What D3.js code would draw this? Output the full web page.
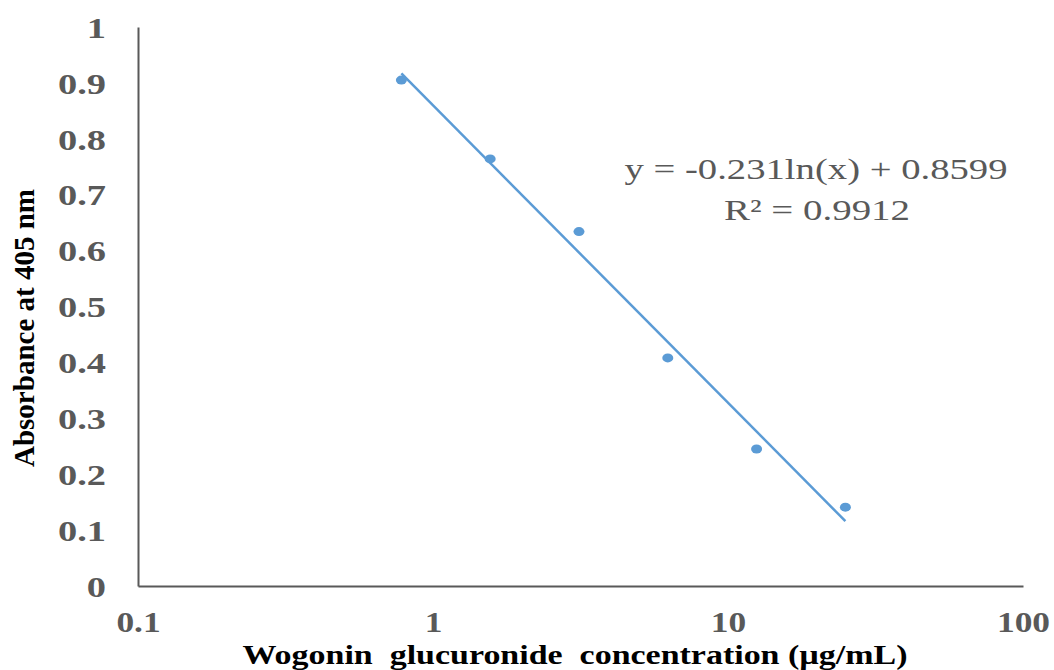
<!DOCTYPE html>
<html>
<head>
<meta charset="utf-8">
<script src="https://cdn.jsdelivr.net/npm/d3@7"></script>
<style>
  html, body { margin: 0; padding: 0; background: #fff; }
  svg { display: block; }
</style>
</head>
<body>
<svg id="chart" width="1054" height="670"></svg>
<script>
// ---- data ----
const concentrations = [0.78125, 1.5625, 3.125, 6.25, 12.5, 25];
const absorbance = [0.905, 0.764, 0.634, 0.408, 0.245, 0.141];
const trendX = [0.78125, 25];
const trendY = [0.917, 0.116];
const xTicks = [0.1, 1, 10, 100];
const xTickLabels = ["0.1", "1", "10", "100"];
const yTicks = [0, 0.1, 0.2, 0.3, 0.4, 0.5, 0.6, 0.7, 0.8, 0.9, 1];
const yTickLabels = ["0", "0.1", "0.2", "0.3", "0.4", "0.5", "0.6", "0.7", "0.8", "0.9", "1"];
const equationLines = ["y = -0.231ln(x) + 0.8599", "R\u00B2 = 0.9912"];
const xTitle = "Wogonin  glucuronide  concentration (\u00B5g/mL)";
const yTitle = "Absorbance at 405 nm";

(function() {
// ---- layout ----
const svg = d3.select("#chart");
const mLeft = 138, mRight = 1023, mTop = 27, mBottom = 586;
const x = d3.scaleLog().domain([0.1, 100]).range([mLeft, mRight]);
const y = d3.scaleLinear().domain([0, 1]).range([mBottom, mTop]);

const grey = "#595959";
const blue = "#5B9BD5";
const serif = "'Liberation Serif', 'Times New Roman', serif";

function stretch(sel, factor) {
  sel.each(function() {
    const w = this.getComputedTextLength();
    d3.select(this).attr("textLength", w * factor).attr("lengthAdjust", "spacingAndGlyphs");
  });
}

// axes
const xAxis = d3.axisBottom(x).tickValues(xTicks).tickSize(0)
  .tickFormat((d, i) => xTickLabels[i]);
const gx = svg.append("g").attr("transform", `translate(0,${mBottom})`).call(xAxis);
gx.select(".domain").attr("stroke", grey).attr("stroke-width", 2);
gx.selectAll("text")
  .attr("font-family", serif).attr("font-weight", "bold").attr("font-size", 30)
  .attr("fill", grey).attr("dy", null).attr("y", 46);
stretch(gx.selectAll("text"), 1.18);

const yAxis = d3.axisLeft(y).tickValues(yTicks).tickSize(0)
  .tickFormat((d, i) => yTickLabels[i]);
const gy = svg.append("g").attr("transform", `translate(${mLeft},0)`).call(yAxis);
gy.select(".domain").attr("stroke", grey).attr("stroke-width", 2);
gy.selectAll("text")
  .attr("font-family", serif).attr("font-weight", "bold").attr("font-size", 30)
  .attr("fill", grey).attr("x", -32).attr("dy", "0.34em");
stretch(gy.selectAll("text"), 1.28);

// trendline
svg.append("line")
  .attr("x1", x(trendX[0])).attr("y1", y(trendY[0]))
  .attr("x2", x(trendX[1])).attr("y2", y(trendY[1]))
  .attr("stroke", blue).attr("stroke-width", 2.5);

// points
svg.append("g").selectAll("ellipse")
  .data(concentrations.map((c, i) => [c, absorbance[i]]))
  .join("ellipse")
  .attr("cx", d => x(d[0])).attr("cy", d => y(d[1]))
  .attr("rx", 5.5).attr("ry", 4.5)
  .attr("fill", blue);

// equation
const eq = svg.append("g").attr("font-family", serif).attr("font-size", 30).attr("fill", grey)
  .attr("text-anchor", "middle");
eq.append("text").attr("x", 816).attr("y", 179).text(equationLines[0])
  .attr("textLength", 383).attr("lengthAdjust", "spacingAndGlyphs");
eq.append("text").attr("x", 817).attr("y", 220).text(equationLines[1])
  .attr("textLength", 186).attr("lengthAdjust", "spacingAndGlyphs");

// axis titles
const xt = svg.append("text")
  .attr("x", 575).attr("y", 664).attr("text-anchor", "middle")
  .attr("font-family", serif).attr("font-weight", "bold").attr("font-size", 28)
  .attr("fill", "#000").style("white-space", "pre").attr("xml:space", "preserve")
  .text(xTitle);
xt.attr("textLength", 665).attr("lengthAdjust", "spacingAndGlyphs");

const yt = svg.append("text")
  .attr("transform", `translate(34,328) rotate(-90)`)
  .attr("text-anchor", "middle")
  .attr("font-family", serif).attr("font-weight", "bold").attr("font-size", 29)
  .attr("fill", "#000").text(yTitle);
yt.attr("textLength", 278).attr("lengthAdjust", "spacingAndGlyphs");
})();
</script>
</body>
</html>
